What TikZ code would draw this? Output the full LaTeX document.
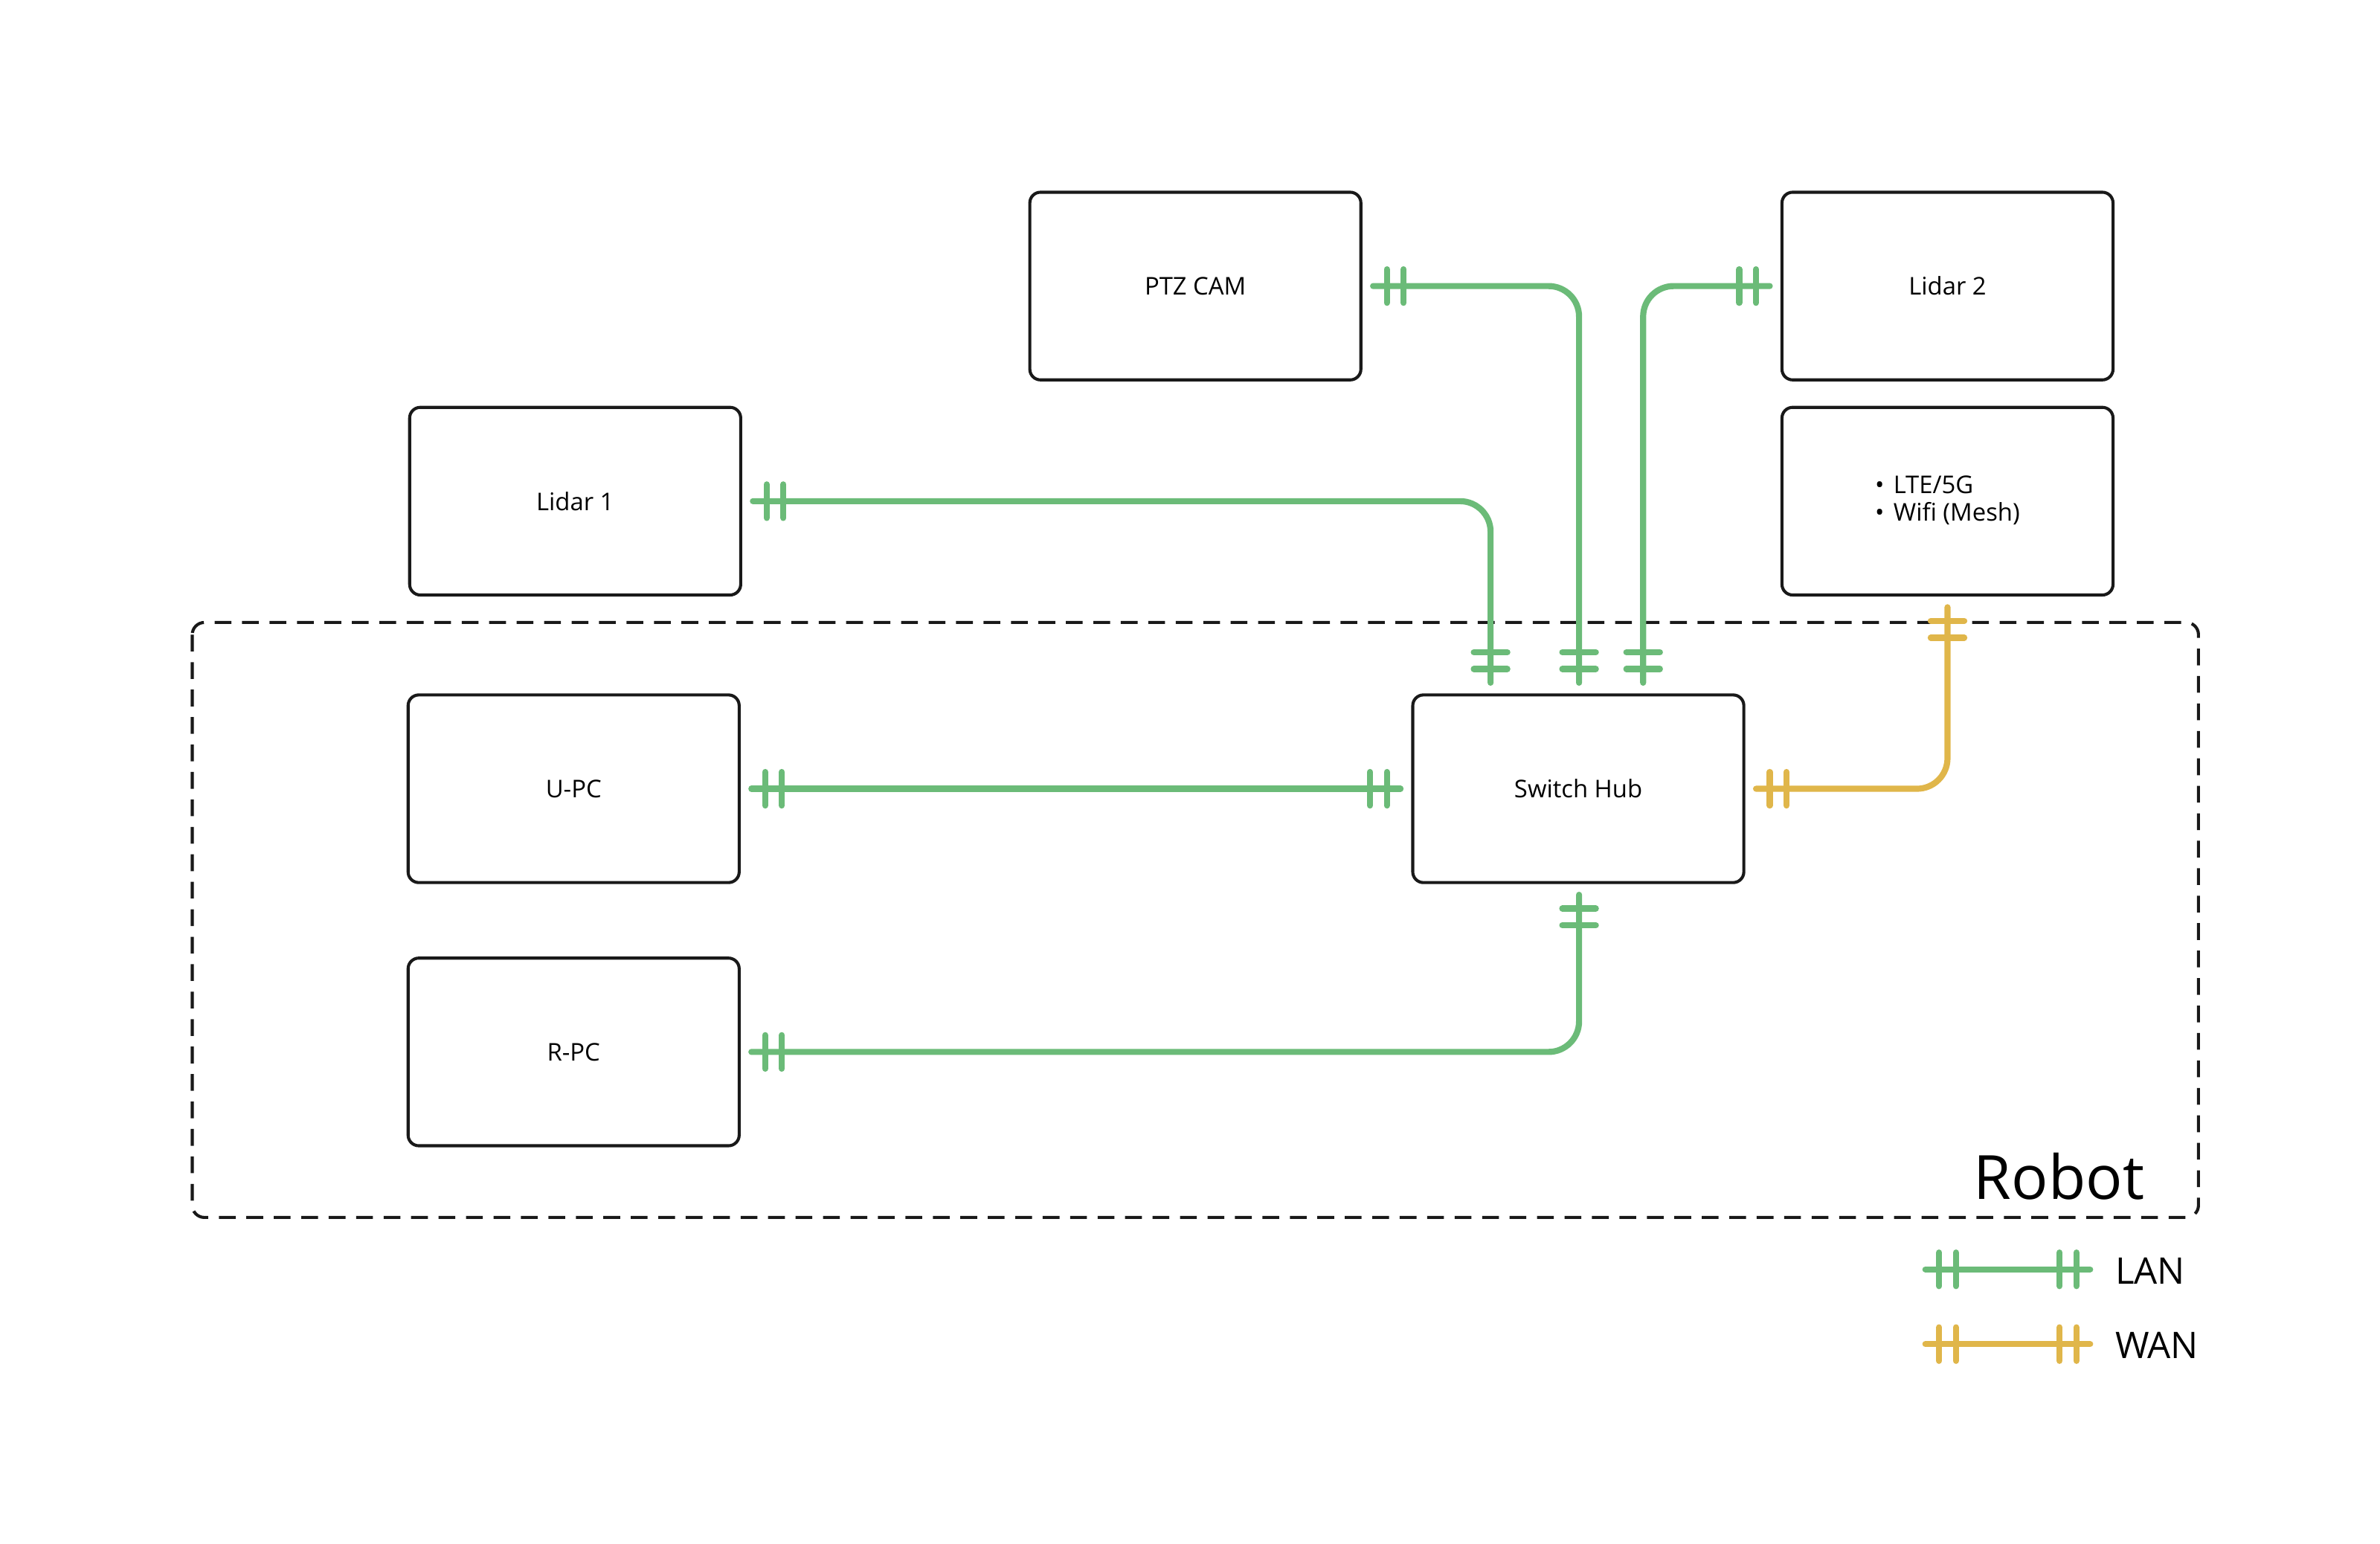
\documentclass[tikz,border=0pt]{standalone}
\usepackage{fontspec}
\setmainfont{Open Sans}
\usetikzlibrary{decorations.markings,calc}
\definecolor{lan}{HTML}{6BBB78}
\definecolor{wan}{HTML}{E0B64A}
\tikzset{
  box/.style={draw=black!90,line width=2pt,rounded corners=7pt,minimum width=217pt,minimum height=123pt,font=\fontsize{16}{19}\selectfont},
  tick/.style={decoration={markings,
     mark=at position 9pt with {\draw[line cap=round,line width=4pt,#1] (0,-11pt)--(0,11pt);},
     mark=at position 20pt with {\draw[line cap=round,line width=4pt,#1] (0,-11pt)--(0,11pt);},
     mark=at position -9pt with {\draw[line cap=round,line width=4pt,#1] (0,-11pt)--(0,11pt);},
     mark=at position -20pt with {\draw[line cap=round,line width=4pt,#1] (0,-11pt)--(0,11pt);}},
     postaction={decorate}},
  link/.style={draw=#1,line width=4pt,line cap=round,rounded corners=20pt,tick=#1},
}
\begin{document}
\begin{tikzpicture}[x=1pt,y=-1pt]
\useasboundingbox (0,0) rectangle (1560,1012);
\draw[black!90,line width=2pt,dash pattern=on 11pt off 7pt,rounded corners=8pt] (126,408) rectangle (1441,798);
\node[font=\fontsize{40}{48}\selectfont,anchor=base east] (robot) at (1409,786) {Robot};
\node[box] (ptz) at (783.5,187.5) {PTZ CAM};
\node[box] (l2) at (1276.5,187.5) {Lidar 2};
\node[box] (l1) at (377,328.5) {Lidar 1};
\node[box] (lte) at (1276.5,328.5) {\begin{tabular}{@{}l@{}}\textbullet\hspace{6pt}LTE/5G\\[-1pt]\textbullet\hspace{6pt}Wifi (Mesh)\end{tabular}};
\node[box] (upc) at (376,517) {U-PC};
\node[box] (rpc) at (376,689.5) {R-PC};
\node[box] (sw) at (1034.5,517) {Switch Hub};
\draw[link=lan] ([xshift=7pt]ptz.east) -| ([xshift=0.5pt,yshift=7pt]sw.north);
\draw[link=lan] ([xshift=42.5pt,yshift=7pt]sw.north) |- ([xshift=-7pt]l2.west);
\draw[link=lan] ([xshift=7pt]l1.east) -| ([xshift=-57.5pt,yshift=7pt]sw.north);
\draw[link=lan] ([xshift=7pt]upc.east) -- ([xshift=-7pt]sw.west);
\draw[link=lan] ([xshift=7pt]rpc.east) -| ([xshift=0.5pt,yshift=-7pt]sw.south);
\draw[link=wan] ([xshift=7pt]sw.east) -| ([yshift=-7pt]lte.south);
\coordinate (la) at (1262,832); \coordinate (lb) at (1370,832);
\coordinate (wa) at (1262,881); \coordinate (wb) at (1370,881);
\draw[link=lan] (la) -- (lb);
\draw[link=wan] (wa) -- (wb);
\node[anchor=west,font=\fontsize{24}{28}\selectfont] (lant) at (1383,833) {LAN};
\node[anchor=west,font=\fontsize{24}{28}\selectfont] (want) at (1383,882) {WAN};
\end{tikzpicture}
\end{document}
